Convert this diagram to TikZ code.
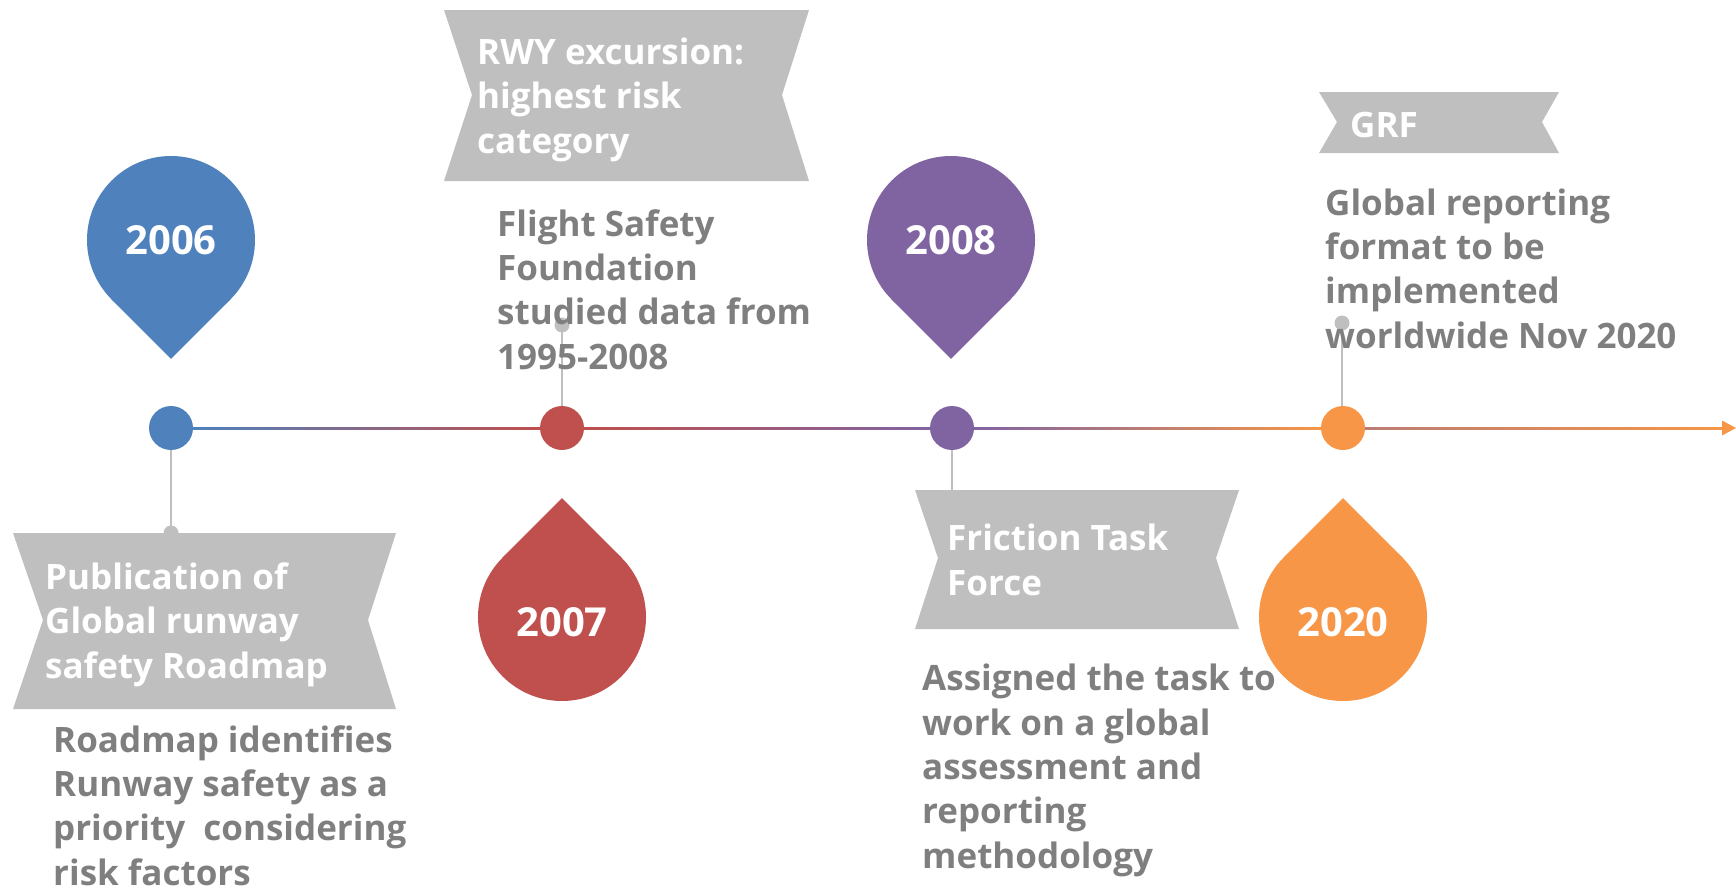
\documentclass[tikz,border=0pt]{standalone}
\usepackage{fontspec}
\setmainfont{Open Sans}
\definecolor{cblue}{HTML}{4F81BD}
\definecolor{cred}{HTML}{C0504D}
\definecolor{cpurple}{HTML}{8064A2}
\definecolor{corange}{HTML}{F79646}
\definecolor{bgray}{HTML}{BFBFBF}
\definecolor{tgray}{HTML}{7F7F7F}
\newcommand{\pintipdown}[3]{%
  \fill[#3] (#1,#2) circle[radius=84];
  \fill[#3] (#1,#2+118.8) -- (#1+59.4,#2+59.4) -- (#1,#2) -- (#1-59.4,#2+59.4) -- cycle;}
\newcommand{\pintipup}[3]{%
  \fill[#3] (#1,#2) circle[radius=84];
  \fill[#3] (#1,#2-118.8) -- (#1+59.4,#2-59.4) -- (#1,#2) -- (#1-59.4,#2-59.4) -- cycle;}
\begin{document}
\begin{tikzpicture}[x=1pt,y=-1pt,
  banner/.style={fill=bgray},
  yeartxt/.style={text=white,font=\fontsize{40}{48}\selectfont\bfseries,inner sep=0},
  wtxt/.style={text=white,font=\fontsize{35}{44.5}\selectfont\bfseries,anchor=base west,align=left,inner sep=0},
  gtxt/.style={text=tgray,font=\fontsize{35}{44.3}\selectfont\bfseries,anchor=base west,align=left,inner sep=0},
  tdot/.style={circle,fill=#1,minimum size=44,inner sep=0},
  enddot/.style={circle,fill=bgray,minimum size=15,inner sep=0},
  conn/.style={draw=bgray,line width=2}]
\useasboundingbox (0,0) rectangle (1736,894);
% pins
\pintipdown{171}{240}{cblue}
\pintipup{562}{617}{cred}
\pintipdown{951}{240}{cpurple}
\pintipup{1343}{617}{corange}
\node[yeartxt] (y2006) at (171,240) {2006};
\node[yeartxt] (y2007) at (562,622) {2007};
\node[yeartxt] (y2008) at (951,240) {2008};
\node[yeartxt] (y2020) at (1343,622) {2020};
% timeline circles
\node[tdot=cblue] (c1) at (171,428) {};
\node[tdot=cred] (c2) at (562,428) {};
\node[tdot=cpurple] (c3) at (952,428) {};
\node[tdot=corange] (c4) at (1343,428) {};
% connector end dots
\node[enddot] (d1) at (171,533) {};
\node[enddot] (d2) at (562,325) {};
\coordinate (d3) at (952,490);
\node[enddot] (d4) at (1342,323) {};
\draw[conn] (c1) -- (d1.center);
\draw[conn] (c2) -- (d2.center);
\draw[conn] (c3) -- (d3);
\draw[conn] (c4.north -| d4) -- (d4.center);
% banners
\fill[banner] (13,533) -- (396,533) -- (368,620) -- (396,709) -- (13,709) -- (43,620) -- cycle;
\fill[banner] (444,10) -- (809,10) -- (782,95) -- (809,181) -- (444,181) -- (472,95) -- cycle;
\fill[banner] (915,490) -- (1239,490) -- (1216,558) -- (1239,629) -- (915,629) -- (938,558) -- cycle;
\fill[banner] (1319,92) -- (1559,92) -- (1542,122) -- (1559,153) -- (1319,153) -- (1337,122) -- cycle;
% banner texts (anchored at the baseline of the last line)
\node[wtxt] (b1) at (45,678) {Publication of\\Global runway\\safety Roadmap};
\node[wtxt] (b2) at (477,153) {RWY excursion:\\highest risk\\category};
\node[wtxt] (b3) at (947,595) {Friction Task\\Force};
\node[wtxt] (b4) at (1350,137) {GRF};
% descriptions (anchored at the baseline of the last line)
\node[gtxt] (t1) at (53,885) {Roadmap identifies\\Runway safety as a\\priority\ \ considering\\risk factors};
\node[gtxt] (t2) at (497,369) {Flight Safety\\Foundation\\studied data from\\1995-2008};
\node[gtxt] (t3) at (922,868) {Assigned the task to\\work on a global\\assessment and\\reporting\\methodology};
\node[gtxt] (t4) at (1325,348) {Global reporting\\format to be\\implemented\\worldwide Nov 2020};
% timeline line
\coordinate (aend) at (1736,428);
\shade[left color=cblue,right color=cred] (193,427) rectangle (540,429.2);
\shade[left color=cred,right color=cpurple] (584,427) rectangle (930,429.2);
\shade[left color=cpurple,right color=corange] (974,427) rectangle (1321,429.2);
\shade[left color=cpurple!50!corange,right color=corange] (1365,427) rectangle (1722,429.2);
\fill[corange] (1722,420.5) -- (aend) -- (1722,435.5) -- cycle;
\end{tikzpicture}
\end{document}
